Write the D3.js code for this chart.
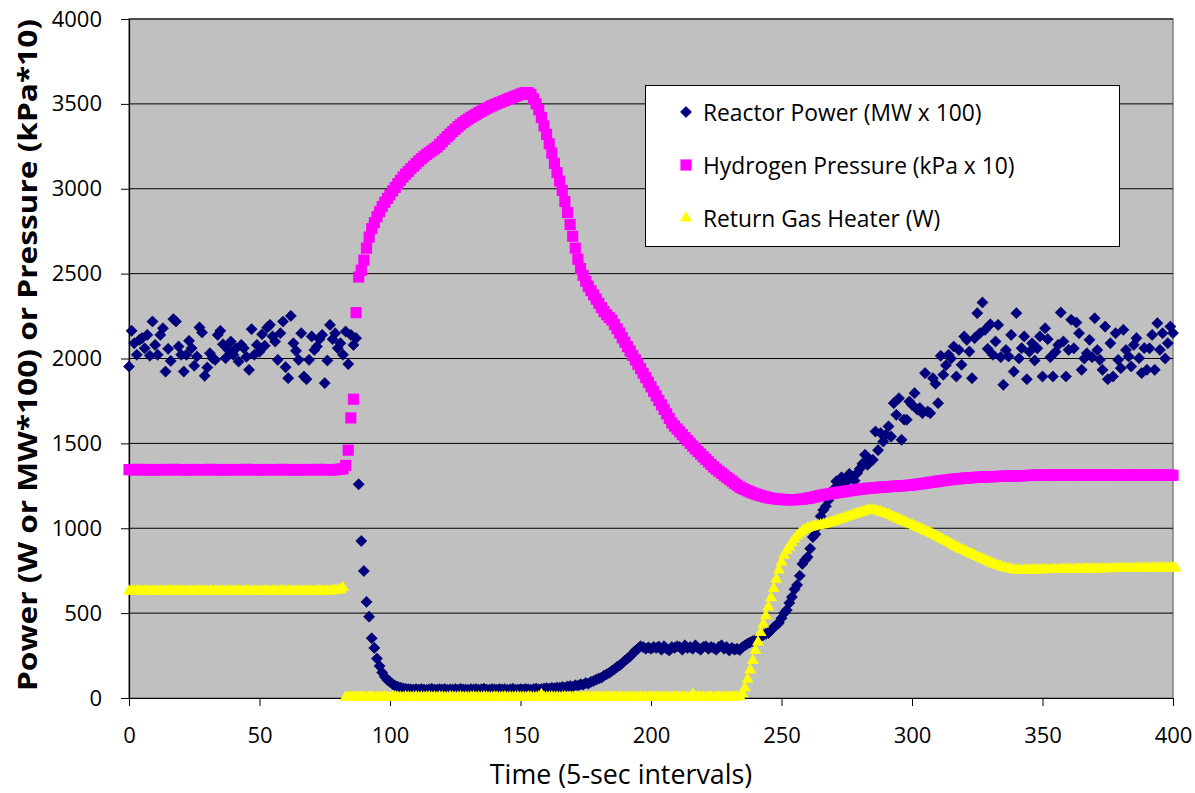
<!DOCTYPE html>
<html>
<head>
<meta charset="utf-8">
<script src="https://cdn.jsdelivr.net/npm/d3@7"></script>
<style>
  body { margin: 0; background: #fff; }
  svg { font-family: 'Open Sans', sans-serif; }
</style>
</head>
<body>
<div id="chart"></div>
<script>
// Series values, one per 5-sec interval (index 0..400)
const reactorPower = [
  1953,2163,2090,2022,2110,2120,2060,2139,2016,2218,
  2080,2022,2139,2178,1923,2057,1986,2232,2218,2071,
  2022,1923,2022,2104,2061,1957,2012,2183,2153,1898,
  1947,2031,2002,1992,2139,2163,2084,2002,2051,2100,
  2022,2060,1982,2080,2061,2010,1933,2173,2022,2080,
  2040,2143,2075,2183,2198,2130,2100,1992,2149,2218,
  1949,1884,2251,2090,2045,1992,2149,1894,1878,1992,
  2130,2050,2071,2114,2139,1855,1988,2198,2114,2149,
  2061,2090,2022,2159,1967,2139,2080,2120,
  1259,925,748,566,479,352,295,232,188,150,125,106,
  95,82,72,66,61,57,54,52,51,50,
  52,49,53,50,48,51,54,50,49,52,
  50,53,48,51,50,52,49,54,51,50,
  48,52,50,53,49,51,55,50,48,52,
  51,49,53,50,52,48,51,54,50,49,
  52,50,53,51,48,52,55,51,53,56,
  58,55,60,57,62,60,65,62,68,70,
  66,75,72,80,78,88,85,95,100,108,
  115,120,132,140,148,160,170,183,192,205,
  220,232,245,262,278,290,305,300,290,298,
  290,300,295,303,285,305,290,280,300,295,
  305,300,285,310,295,300,290,310,295,285,
  300,305,290,300,295,285,300,310,290,300,
  280,295,285,290,283,300,310,320,328,335,
  342,350,362,370,378,383,400,415,430,442,
  470,500,518,560,595,640,666,720,790,813,
  830,880,948,965,1010,1070,1107,1130,1165,1200,
  1230,1276,1250,1300,1260,1276,1320,1305,1280,1325,
  1350,1380,1433,1374,1402,1403,1570,1460,1560,1511,
  1550,1600,1540,1737,1668,1766,1521,1640,1639,1747,
  1727,1796,1700,1708,1678,1914,1688,1678,1884,1851,
  1737,2016,1904,1960,2022,2000,
  2071,1894,2050,1963,2130,2110,2041,1884,2120,2267,
  2149,2330,2169,2057,2202,2022,2100,2198,2008,1845,
  2050,2012,2139,1923,2267,2000,2061,2130,1878,2040,
  2090,1988,2060,2130,1894,2178,2114,2008,1894,2040,
  2080,2271,2100,1894,2051,2228,2060,2212,2149,1933,
  2000,2031,2110,2008,2237,2050,1992,1933,2188,1878,
  2090,1894,2149,1992,1943,2169,2050,2012,1953,2080,
  2120,2002,1914,2061,1933,2060,2139,1933,2208,2051,
  2149,2000,2090,2188,2150
];

const hydrogenPressure = [
  1345,1346,1344,1345,1347,1345,1344,1346,1345,1343,
  1345,1346,1344,1345,1346,1344,1345,1347,1345,1344,
  1346,1345,1343,1345,1346,1344,1345,1346,1345,1344,
  1345,1347,1345,1344,1346,1345,1343,1345,1346,1344,
  1345,1346,1345,1344,1345,1347,1345,1344,1346,1345,
  1343,1345,1346,1344,1345,1346,1345,1344,1345,1347,
  1345,1344,1346,1345,1343,1345,1346,1344,1345,1346,
  1345,1344,1345,1347,1345,1344,1346,1345,1343,1345,
  1346,1348,1350,
  1370,1460,1650,1760,2270,2480,2520,2580,2650,2715,
  2765,2800,2835,2865,2895,2920,2943,
  2965,2987,3008,3030,3050,3069,3086,3102,3118,3133,
  3148,3163,3177,3190,3202,3213,3224,3235,3246,3261,
  3277,3292,3307,3322,3337,3351,3365,3378,3390,3401,
  3411,3421,3430,3439,3448,3457,3465,3473,3481,3488,
  3495,3502,3508,3514,3520,3527,3533,3539,3545,3551,
  3557,3563,3567,3566,3555,3530,3500,3465,3420,3370,
  3320,3265,3210,3150,3095,3045,2990,2925,2860,2790,
  2720,2650,2585,2530,2490,2455,2425,2400,2375,2350,
  2325,2300,2277,2258,2242,2227,2200,2175,2150,2122,
  2096,2070,2044,2018,1992,1966,1940,1913,1887,1860,
  1833,1806,1780,1753,1727,1700,1674,1647,1620,1602,
  1585,1568,1551,1534,1517,1500,1484,1468,1452,1437,
  1421,1406,1391,1376,1361,1348,1336,1324,1312,1300,
  1289,1277,1265,1254,1243,1235,1228,1221,1214,1208,
  1202,1197,1192,1188,1184,1180,1177,1175,1173,1171,
  1170,1169,1168,1168,1168,1168,1169,1170,1172,1174,
  1176,1179,1182,1186,1189,1193,1196,1199,1201,1204,
  1207,1209,1212,1214,1216,1219,1221,1223,1226,1228,
  1230,1232,1233,1235,1236,1238,1239,1240,1242,1243,
  1244,1245,1246,1247,1248,1249,1250,1251,1252,1253,
  1255,1257,1259,1261,1263,1265,1268,1270,1272,1274,
  1277,1279,1281,1283,1285,1287,1289,1290,1292,1293,
  1295,1296,1297,1298,1299,1300,1301,1302,1303,1303,
  1304,1304,1305,1305,1306,1306,1307,1307,1308,1308,
  1308,1309,1310,1310,1311,1311,1312,1312,1312,1313,
  1313,1312,1313,1314,1313,1313,1314,1313,1312,1313,
  1314,1313,1313,1312,1313,1314,1313,1313,1312,1313,
  1313,1314,1313,1312,1313,1313,1314,1313,1312,1312,
  1313,1313,1312,1313,1314,1313,1312,1313,1313,1312,
  1313,1312,1313,1314,1313,1312,1313,1312,1313,1313,
  1312
];

const returnGasHeater = [
  630,631,629,630,632,630,629,631,630,628,
  630,631,629,630,631,629,630,632,630,629,
  631,630,628,630,631,629,630,631,630,629,
  630,632,630,629,631,630,628,630,631,629,
  630,631,630,629,630,632,630,629,631,630,
  628,630,631,629,630,631,630,629,630,632,
  630,629,631,630,628,630,631,629,630,631,
  630,629,630,632,630,629,631,630,632,634,
  636,638,650,
  4,5,3,6,4,5,6,4,3,5,
  6,4,5,3,5,6,4,5,4,6,
  5,3,4,6,5,4,5,6,4,5,
  3,5,6,4,5,4,6,5,3,4,
  6,5,4,5,6,4,5,3,5,6,
  4,5,4,6,5,3,4,6,5,4,
  5,6,4,5,3,5,6,4,5,4,
  6,5,3,4,6,20,5,4,5,6,
  4,5,3,5,6,4,5,4,6,5,
  3,4,6,5,4,5,6,4,5,3,
  5,6,4,5,4,6,5,3,4,6,
  5,4,5,6,4,5,3,5,6,4,
  5,4,6,5,3,4,6,5,4,5,
  6,4,5,20,5,6,4,5,4,6,
  5,3,4,6,5,4,5,6,4,5,
  5,
  8,25,60,110,165,220,280,330,385,435,
  485,536,590,645,700,754,800,840,868,890,
  915,936,955,970,983,993,1000,1005,1009,1013,
  1016,1019,1022,1026,1030,1034,1040,1045,1050,1055,
  1060,1066,1071,1076,1081,1086,1091,1096,1101,1106,
  1108,1107,1105,1100,1096,1091,1086,1080,1073,1066,
  1060,1053,1046,1039,1032,1026,1020,1013,1006,999,
  992,985,979,972,964,956,948,940,932,924,
  916,907,898,890,882,875,868,861,854,847,
  840,833,826,819,812,805,798,791,785,780,
  775,770,766,762,758,755,753,752,752,753,
  753,754,754,755,754,755,755,756,755,756,
  756,757,756,757,757,758,757,758,758,759,
  758,759,759,760,759,760,760,761,760,761,
  761,762,761,762,762,763,762,763,763,764,
  763,764,764,765,764,765,765,764,765,766,
  765,766,766,765,766,767,766,767
];

const xTicks = [0, 50, 100, 150, 200, 250, 300, 350, 400];
const yTicks = [0, 500, 1000, 1500, 2000, 2500, 3000, 3500, 4000];

const seriesNames = ['Reactor Power (MW x 100)', 'Hydrogen Pressure (kPa x 10)', 'Return Gas Heater (W)'];
const seriesColors = ['#000080', '#ff00ff', '#ffff00'];

// Canvas
const width = 1195;
const height = 793;
const margin = { top: 19, right: 22, bottom: 95, left: 129 };

const svg = d3.select('#chart').append('svg')
    .attr('width', width)
    .attr('height', height);

const xScale = d3.scaleLinear()
    .domain([0, 400])
    .range([margin.left, width - margin.right]);

const yScale = d3.scaleLinear()
    .domain([0, 4000])
    .range([height - margin.bottom, margin.top]);

// Plot area
svg.append('rect')
    .attr('x', xScale(0))
    .attr('y', yScale(4000))
    .attr('width', xScale(400) - xScale(0))
    .attr('height', yScale(0) - yScale(4000))
    .attr('fill', '#c0c0c0')
    .attr('stroke', '#808080')
    .attr('stroke-width', 1.5);

// Gridlines
svg.append('g')
    .selectAll('line')
    .data(yTicks.filter(d => d > 0))
    .enter().append('line')
    .attr('x1', xScale(0))
    .attr('x2', xScale(400))
    .attr('y1', d => yScale(d))
    .attr('y2', d => yScale(d))
    .attr('stroke', '#000')
    .attr('stroke-width', 1);

// Axes
const xAxis = svg.append('g')
    .attr('transform', `translate(0, ${yScale(0)})`)
    .call(d3.axisBottom(xScale).tickValues(xTicks).tickFormat(d3.format('d'))
        .tickSize(8).tickSizeOuter(0).tickPadding(21));

const yAxis = svg.append('g')
    .attr('transform', `translate(${xScale(0)}, 0)`)
    .call(d3.axisLeft(yScale).tickValues(yTicks).tickFormat(d3.format('d'))
        .tickSize(8).tickSizeOuter(0).tickPadding(19));

[xAxis, yAxis].forEach(g => {
    g.selectAll('text')
        .style('font-size', '22px')
        .style('font-family', "'Open Sans', sans-serif")
        .attr('fill', '#000');
    g.selectAll('line').attr('stroke', '#000');
    g.select('.domain').attr('stroke', '#000').attr('stroke-width', 1.2);
});

// Axis titles
svg.append('text')
    .attr('x', 621)
    .attr('y', 784)
    .attr('text-anchor', 'middle')
    .style('font-size', '26.8px')
    .text('Time (5-sec intervals)');

svg.append('text')
    .attr('transform', 'translate(37, 355) rotate(-90)')
    .attr('text-anchor', 'middle')
    .attr('textLength', 672)
    .attr('lengthAdjust', 'spacingAndGlyphs')
    .style('font-size', '27px')
    .style('font-weight', 'bold')
    .text('Power (W or MW*100) or Pressure (kPa*10)');

// Markers
const shapes = [
    d3.symbol().type(d3.symbolSquare).size(62),
    d3.symbol().type(d3.symbolSquare).size(125),
    d3.symbol().type(d3.symbolTriangle).size(62)
];
const rotations = [45, 0, 0];

[reactorPower, hydrogenPressure, returnGasHeater].forEach((values, s) => {
    svg.append('g')
        .selectAll('path')
        .data(values)
        .enter().append('path')
        .attr('d', shapes[s])
        .attr('transform', (d, i) => `translate(${xScale(i)}, ${yScale(d)}) rotate(${rotations[s]})`)
        .attr('fill', seriesColors[s])
        .attr('stroke', s === 0 ? '#00005a' : 'none')
        .attr('stroke-width', 0.6);
});

// Legend
const legend = svg.append('g');
legend.append('rect')
    .attr('x', 645.5)
    .attr('y', 85.5)
    .attr('width', 474)
    .attr('height', 161)
    .attr('fill', '#fff')
    .attr('stroke', '#000')
    .attr('stroke-width', 1);

const legendRows = [112, 165, 218];
seriesNames.forEach((name, s) => {
    legend.append('path')
        .attr('d', shapes[s])
        .attr('transform', `translate(686, ${legendRows[s]}) rotate(${rotations[s]})`)
        .attr('fill', seriesColors[s])
        .attr('stroke', s === 0 ? '#00005a' : 'none')
        .attr('stroke-width', 0.6);
    legend.append('text')
        .attr('x', 703)
        .attr('y', legendRows[s] + 9)
        .style('font-size', '22.8px')
        .text(name);
});
</script>
</body>
</html>
